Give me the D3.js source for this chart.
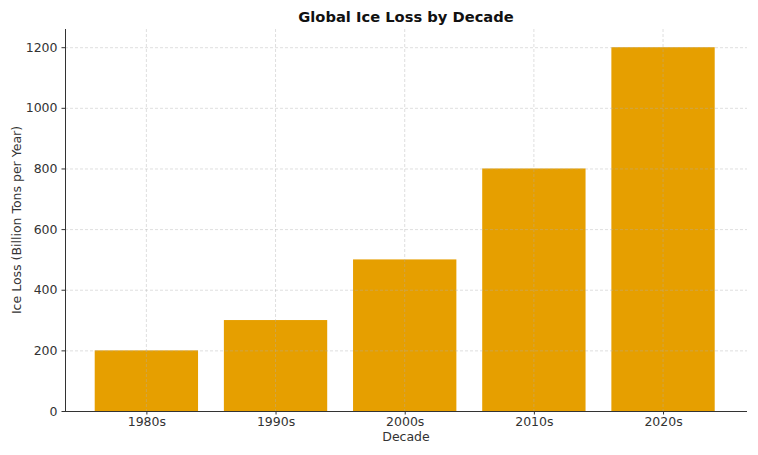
<!DOCTYPE html>
<html><head><meta charset="utf-8">
<script src="https://cdn.jsdelivr.net/npm/d3@7"></script>
<style>body{margin:0;background:#fff;} text{font-family:"DejaVu Sans",sans-serif;}</style>
</head><body>
<svg id="c" width="758" height="455"></svg>
<script>
const categories = ["1980s","1990s","2000s","2010s","2020s"];
const values = [200,300,500,800,1200];
const yTicks = [0,200,400,600,800,1000,1200];

const svg = d3.select("#c");
const L=65,R=747,T=29,B=411;
const x = d3.scaleLinear().domain([-0.63,4.65]).range([L,R]);
const bw = x(0.8)-x(0);
const y = d3.scaleLinear().domain([0,1260]).range([B,T]);

// bars
svg.append("g").selectAll("rect").data(values).join("rect")
  .attr("x",(d,i)=>x(i-0.4)).attr("width",bw)
  .attr("y",d=>y(d)).attr("height",d=>B-y(d))
  .attr("fill","#E69F00");

// grid on top
const grid = svg.append("g").attr("stroke","#b0b0b0").attr("stroke-opacity",0.5).attr("stroke-width",0.8).attr("stroke-dasharray","3,2");
grid.selectAll(".gy").data(yTicks).join("line").attr("x1",L).attr("x2",R).attr("y1",d=>y(d)+0.5).attr("y2",d=>y(d)+0.5);
grid.selectAll(".gx").data(categories).join("line").attr("y1",T).attr("y2",B).attr("x1",(d,i)=>x(i)).attr("x2",(d,i)=>x(i));

// axes
const yAxis = d3.axisLeft(y).tickValues(yTicks).tickFormat(d3.format("d")).tickSize(3.5).tickPadding(4);
const gy = svg.append("g").attr("transform",`translate(${L},0)`).call(yAxis);
const xAxis = d3.axisBottom(x).tickValues(d3.range(categories.length)).tickFormat(i=>categories[i]).tickSize(3.5).tickPadding(3);
const gx = svg.append("g").attr("transform",`translate(0,${B})`).call(xAxis);
[gy,gx].forEach(g=>{
  g.selectAll("text").attr("font-size","12.5px").attr("fill","#333").attr("font-family","DejaVu Sans");
  g.selectAll("line").attr("stroke","#333");
  g.select(".domain").attr("stroke","#333").attr("stroke-width",1);
});
gy.select(".domain").attr("d",`M0.5,${T}V${B}`);
gx.select(".domain").attr("d",`M${L},0.5H${R}`);

svg.append("text").attr("x",(L+R)/2).attr("y",22).attr("text-anchor","middle")
  .attr("font-size","14.7px").attr("font-weight","bold").attr("fill","#111").text("Global Ice Loss by Decade");
svg.append("text").attr("x",(L+R)/2).attr("y",441).attr("text-anchor","middle")
  .attr("font-size","12.5px").attr("fill","#333").text("Decade");
svg.append("text").attr("transform",`translate(21,${(T+B)/2}) rotate(-90)`).attr("text-anchor","middle")
  .attr("font-size","12.5px").attr("fill","#333").text("Ice Loss (Billion Tons per Year)");
</script>
</body></html>
